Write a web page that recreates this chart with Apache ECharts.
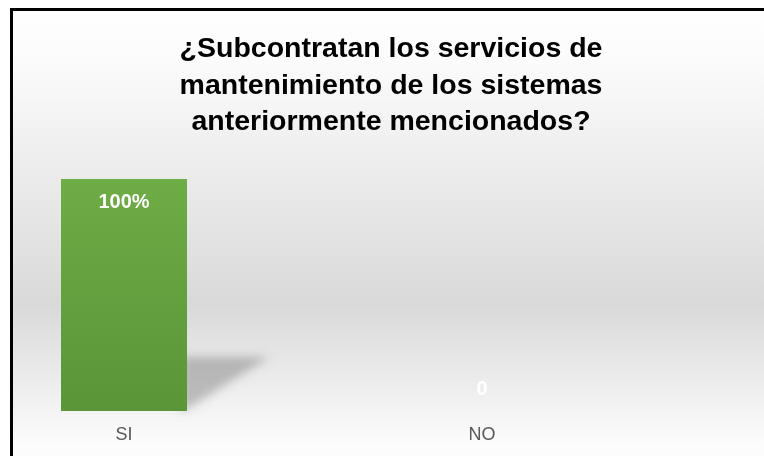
<!DOCTYPE html>
<html>
<head>
<meta charset="utf-8">
<script src="https://cdn.jsdelivr.net/npm/echarts@6/dist/echarts.min.js"></script>
<style>
  html, body { margin: 0; padding: 0; background: #fff; }
  #main { width: 764px; height: 456px; }
</style>
</head>
<body>
<div id="main"></div>
<script>
// datos de la encuesta
const categorias = ['SI', 'NO'];
const valores = [100, 0];
const etiquetas = ['100%', '0'];
const titulo = '¿Subcontratan los servicios de\nmantenimiento de los sistemas\nanteriormente mencionados?';

const chart = echarts.init(document.getElementById('main'));

// sombra en perspectiva detras de la barra (solo se dibuja la sombra difuminada)
function sombra(params, api) {
    const v = api.value(1);
    if (!v) return;
    const base = api.coord([api.value(0), 0]);
    const R = base[0] + 63, B = base[1];
    const off = 2000;
    return {
        type: 'polygon',
        shape: {points: [[R - 6 - off, B + 2], [R - 6 - off, B - 54], [R + 82 - off, B - 54]]},
        style: {
            fill: '#000',
            shadowBlur: 10,
            shadowOffsetX: off,
            shadowColor: 'rgba(0,0,0,0.22)'
        }
    };
}

const option = {
    animation: false,
    graphic: [
        {
            type: 'rect', z: -10, silent: true,
            shape: {x: 10, y: 8, width: 760, height: 450},
            style: {
                fill: new echarts.graphic.LinearGradient(0, 0, 0, 1, [
                    {offset: 0, color: '#ffffff'},
                    {offset: 0.12, color: '#fbfbfb'},
                    {offset: 0.38, color: '#ebebeb'},
                    {offset: 0.66, color: '#d9d9d9'},
                    {offset: 0.97, color: '#fcfcfc'}
                ])
            }
        },
        {type: 'line', z: 10, shape: {x1: 11.5, y1: 9.5, x2: 11.5, y2: 460}, style: {stroke: '#000', lineWidth: 3}},
        {type: 'line', z: 10, shape: {x1: 10, y1: 9.5, x2: 770, y2: 9.5}, style: {stroke: '#000', lineWidth: 3}}
    ],
    title: {
        text: titulo,
        left: 386,
        textAlign: 'center',
        top: 26,
        textStyle: {
            fontFamily: 'Arial, Liberation Sans',
            fontSize: 28.5,
            fontWeight: 'bold',
            color: '#000',
            lineHeight: 36.5
        }
    },
    grid: {left: 124, width: 358, top: 179, bottom: 45},
    xAxis: {
        type: 'category',
        data: categorias,
        boundaryGap: false,
        axisLine: {show: false},
        axisTick: {show: false},
        axisLabel: {color: '#595959', fontSize: 18, fontFamily: 'Arial', margin: 15}
    },
    yAxis: {
        type: 'value',
        min: 0,
        max: 100,
        show: false
    },
    series: [
        {
            type: 'custom',
            renderItem: sombra,
            data: categorias.map((c, i) => [i, valores[i]]),
            z: 1,
            silent: true
        },
        {
            type: 'bar',
            barWidth: 126,
            z: 2,
            data: valores.map((v, i) => ({
                value: v,
                label: v > 0
                    ? {show: true, position: 'insideTop', distance: 13, formatter: etiquetas[i]}
                    : {show: true, position: 'top', distance: 12, formatter: etiquetas[i]}
            })),
            label: {color: '#fff', fontSize: 20, fontWeight: 'bold', fontFamily: 'Arial'},
            itemStyle: {
                color: new echarts.graphic.LinearGradient(0, 0, 0, 1, [
                    {offset: 0, color: '#6eac45'},
                    {offset: 1, color: '#5a9538'}
                ])
            }
        }
    ]
};

chart.setOption(option);
</script>
</body>
</html>
